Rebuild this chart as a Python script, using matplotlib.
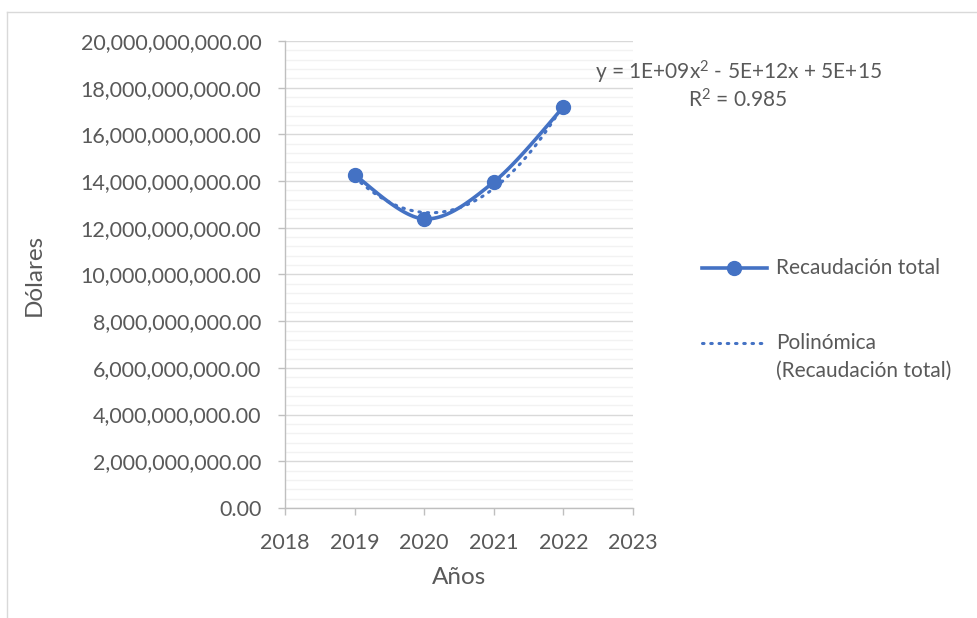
import matplotlib
matplotlib.use("Agg")
import matplotlib.pyplot as plt
from matplotlib.lines import Line2D
from matplotlib.ticker import MultipleLocator, FuncFormatter
import numpy as np

# data
years = [2019, 2020, 2021, 2022]
recaudacion = [14.26e9, 12.38e9, 13.96e9, 17.17e9]

series_label = "Recaudación total"
trend_label = ["Polinómica", "(Recaudación total)"]
equation_text = "y = 1E+09x$^2$ - 5E+12x + 5E+15"
r2_text = "R$^2$ = 0.985"
x_title = "Años"
y_title = "Dólares"

blue = "#4472c4"
text_color = "#595959"
plt.rcParams['font.family'] = ["Lato", "DejaVu Sans"]
plt.rcParams['mathtext.fontset'] = 'custom'
plt.rcParams['mathtext.rm'] = 'Lato'
plt.rcParams['mathtext.default'] = 'rm'
dots = (0, (0.5, 2.2))


def smooth_curve(xs, ys, n=40):
    """Excel-like smoothed line: cubic bezier with catmull-rom control points."""
    pts = np.column_stack([xs, ys]).astype(float)
    ext = np.vstack([pts[0], pts, pts[-1]])
    out = []
    t = np.linspace(0, 1, n)[:, None]
    for i in range(1, len(ext) - 2):
        p0, p1, p2, p3 = ext[i - 1], ext[i], ext[i + 1], ext[i + 2]
        c1 = p1 + (p2 - p0) / 6.0
        c2 = p2 - (p3 - p1) / 6.0
        seg = ((1 - t) ** 3) * p1 + 3 * ((1 - t) ** 2) * t * c1 + 3 * (1 - t) * t ** 2 * c2 + t ** 3 * p2
        out.append(seg)
    out = np.vstack(out)
    return out[:, 0], out[:, 1]


def fx(px):
    return px / 977.0


def fy(py):
    return 1 - py / 618.0


fig = plt.figure(figsize=(9.77, 6.18), dpi=100)
ax = fig.add_axes([0.2917, 0.178, 0.3562, 0.7557])

# chart border (light grey)
fig.add_artist(Line2D([fx(7), 1], [fy(12), fy(12)], color="#d9d9d9", lw=1.0))
fig.add_artist(Line2D([fx(7), fx(7)], [0, fy(12)], color="#d9d9d9", lw=1.0))

# polynomial trendline
coef = np.polyfit(np.array(years) - 2020, recaudacion, 2)
xt = np.linspace(years[0], years[-1], 200)
yt = np.polyval(coef, xt - 2020)
ax.plot(xt, yt, color=blue, lw=2.2, linestyle=dots, dash_capstyle="round", zorder=3)

# smoothed series
sx, sy = smooth_curve(years, recaudacion)
ax.plot(sx, sy, color=blue, lw=2.6, zorder=4, solid_capstyle="round")
ax.plot(years, recaudacion, "o", color=blue, ms=10, zorder=5)

ax.set_xlim(2018, 2023)
ax.set_ylim(0, 20e9)
ax.yaxis.set_major_locator(MultipleLocator(2e9))
ax.yaxis.set_minor_locator(MultipleLocator(4e8))
ax.xaxis.set_major_locator(MultipleLocator(1))
ax.yaxis.set_major_formatter(FuncFormatter(lambda v, p: "{:,.2f}".format(v)))
ax.xaxis.set_major_formatter(FuncFormatter(lambda v, p: "{:d}".format(int(round(v)))))

ax.grid(True, which="major", axis="y", color="#d9d9d9", lw=1.0, zorder=0)
ax.grid(True, which="minor", axis="y", color="#f2f2f2", lw=1.0, zorder=0)
ax.set_axisbelow(True)

for side in ["top", "right"]:
    ax.spines[side].set_visible(False)
for side in ["left", "bottom"]:
    ax.spines[side].set_color("#bfbfbf")
    ax.spines[side].set_linewidth(1.0)

ax.tick_params(axis="both", which="major", colors="#bfbfbf", labelcolor=text_color,
               labelsize=15.5, length=5, width=1.0, direction="out")
ax.tick_params(axis="y", which="minor", length=0)
ax.tick_params(axis="x", pad=13)
ax.tick_params(axis="y", pad=12)

ax.set_xlabel(x_title, fontsize=17.5, color=text_color, labelpad=10)
ax.set_ylabel(y_title, fontsize=17.5, color=text_color, labelpad=26)

# trendline equation
fig.text(fx(738), fy(72), equation_text, ha="center", va="center", fontsize=15, color=text_color)
fig.text(fx(738), fy(100), r2_text, ha="center", va="center", fontsize=15, color=text_color)

# legend, drawn by hand so the dotted handle sits on the first text line
fig.add_artist(Line2D([fx(702), fx(767)], [fy(268), fy(268)], color=blue, lw=2.6))
fig.add_artist(Line2D([fx(734)], [fy(268)], color=blue, marker="o", ms=10))
fig.text(fx(776), fy(268), series_label, ha="left", va="center", fontsize=15, color=text_color)
fig.add_artist(Line2D([fx(702), fx(767)], [fy(343), fy(343)], color=blue, lw=2.2,
                      linestyle=dots, dash_capstyle="round"))
fig.text(fx(776), fy(343), trend_label[0], ha="left", va="center", fontsize=15, color=text_color)
fig.text(fx(776), fy(371), trend_label[1], ha="left", va="center", fontsize=15, color=text_color)

fig.savefig("out.png", dpi=100, facecolor="white")
